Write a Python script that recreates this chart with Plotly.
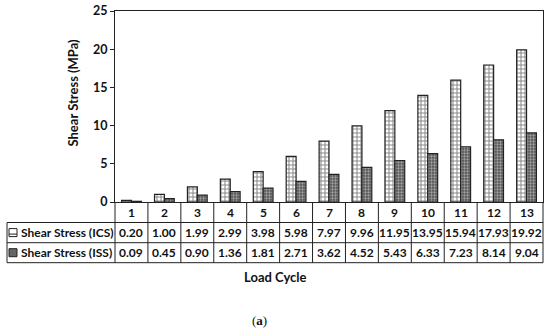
import plotly.graph_objects as go

cycles = [1, 2, 3, 4, 5, 6, 7, 8, 9, 10, 11, 12, 13]
ics = [0.20, 1.00, 1.99, 2.99, 3.98, 5.98, 7.97, 9.96, 11.95, 13.95, 15.94, 17.93, 19.92]
iss = [0.09, 0.45, 0.90, 1.36, 1.81, 2.71, 3.62, 4.52, 5.43, 6.33, 7.23, 8.14, 9.04]
series_names = ["Shear Stress (ICS)", "Shear Stress (ISS)"]
y_ticks = [0, 5, 10, 15, 20, 25]

W, H = 550, 332
PL, PR, PT, PB = 115, 543, 11, 202
FONT = "Lato"
LC = "#222222"


def py(p):
    return (PB - p) / (PB - PT)


def pxp(p):
    return (p - PL) / (PR - PL)


fig = go.Figure()
fig.add_bar(
    x=cycles, y=ics, name=series_names[0],
    marker=dict(color="white", line=dict(color=LC, width=1.2),
                pattern=dict(shape="+", fgcolor="#111", bgcolor="white", size=4, solidity=0.45, fillmode="overlay")),
)
fig.add_bar(
    x=cycles, y=iss, name=series_names[1],
    marker=dict(color="#555555", line=dict(color=LC, width=1.2),
                pattern=dict(shape=".", fgcolor="#f0f0f0", bgcolor="#555555", size=3, solidity=0.45, fillmode="overlay")),
)

rows_y = [202, 222.5, 242.7, 262.7]
shapes = []
for yy in rows_y[1:]:
    shapes.append(dict(type="line", xref="paper", yref="paper", x0=pxp(7), x1=pxp(PR), y0=py(yy), y1=py(yy),
                       line=dict(color=LC, width=1)))
shapes.append(dict(type="line", xref="paper", yref="paper", x0=pxp(7), x1=pxp(7), y0=py(rows_y[1]), y1=py(rows_y[3]),
                   line=dict(color=LC, width=1)))
for xx in (PL, PR):
    shapes.append(dict(type="line", xref="paper", yref="paper", x0=pxp(xx), x1=pxp(xx), y0=py(PB), y1=py(rows_y[3]),
                       line=dict(color=LC, width=1)))
for c in cycles[:-1]:
    shapes.append(dict(type="line", xref="x", yref="paper", x0=c + 0.5, x1=c + 0.5, y0=py(PB), y1=py(rows_y[3]),
                       line=dict(color=LC, width=1)))

k0, k1 = 9, 17
yc1 = (rows_y[1] + rows_y[2]) / 2
yc2 = (rows_y[2] + rows_y[3]) / 2
shapes.append(dict(type="rect", xref="paper", yref="paper", x0=pxp(k0), x1=pxp(k1), y0=py(yc1 + 4), y1=py(yc1 - 4),
                   line=dict(color=LC, width=1), fillcolor="white"))
shapes.append(dict(type="line", xref="paper", yref="paper", x0=pxp(k0), x1=pxp(k1), y0=py(yc1 + 1.5), y1=py(yc1 + 1.5),
                   line=dict(color=LC, width=1)))
shapes.append(dict(type="rect", xref="paper", yref="paper", x0=pxp(k0), x1=pxp(k1), y0=py(yc2 + 4), y1=py(yc2 - 4),
                   line=dict(color=LC, width=1), fillcolor="#666666"))

ann = []
cell_font = dict(family=FONT, size=12, color="#111", weight="bold")
yh = (rows_y[0] + rows_y[1]) / 2
for i, c in enumerate(cycles):
    ann.append(dict(x=c, y=py(yh), xref="x", yref="paper", text=str(c), showarrow=False, font=cell_font,
                    xanchor="center", yanchor="middle"))
    ann.append(dict(x=c, y=py(yc1), xref="x", yref="paper", text=f"{ics[i]:.2f}", showarrow=False, font=cell_font,
                    xanchor="center", yanchor="middle"))
    ann.append(dict(x=c, y=py(yc2), xref="x", yref="paper", text=f"{iss[i]:.2f}", showarrow=False, font=cell_font,
                    xanchor="center", yanchor="middle"))
for name, yc in zip(series_names, (yc1, yc2)):
    ann.append(dict(x=pxp(19), y=py(yc), xref="paper", yref="paper", text=name, showarrow=False,
                    xanchor="left", yanchor="middle", font=cell_font))
ann.append(dict(x=pxp(275), y=py(276.5), xref="paper", yref="paper", text="Load Cycle", showarrow=False,
                xanchor="center", yanchor="middle",
                font=dict(family=FONT, size=13, color="#111", weight="bold")))
ann.append(dict(x=pxp(259.5), y=py(320.5), xref="paper", yref="paper", text="(<b>a</b>)", showarrow=False,
                xanchor="center", yanchor="middle",
                font=dict(family="Liberation Serif", size=13, color="#111")))
# y-axis title
ann.append(dict(x=pxp(72.5), y=py(93), xref="paper", yref="paper", text="Shear Stress (MPa)", showarrow=False,
                textangle=-90, xanchor="center", yanchor="middle",
                font=dict(family=FONT, size=13, color="#111", weight="bold")))

fig.update_layout(
    width=W, height=H,
    margin=dict(l=PL, r=W - PR, t=PT, b=H - PB, autoexpand=False),
    paper_bgcolor="white", plot_bgcolor="white",
    barmode="group", bargap=0.4, bargroupgap=0,
    showlegend=False,
    shapes=shapes, annotations=ann,
    font=dict(family=FONT, color="#111"),
    xaxis=dict(range=[0.5, 13.5], showticklabels=False, ticks="", showgrid=False, zeroline=False,
               showline=True, mirror=True, linecolor=LC, linewidth=1, automargin=False),
    yaxis=dict(range=[0, 25], tickvals=y_ticks, ticks="outside", ticklen=4, tickcolor=LC,
               showgrid=False, zeroline=False, showline=True, mirror=True, linecolor=LC, linewidth=1,
               automargin=False,
               tickfont=dict(family=FONT, size=12.5, color="#111", weight="bold")),
)
fig.write_html("out.html", config={"displayModeBar": False},
               post_script="document.body.style.margin='0';")
